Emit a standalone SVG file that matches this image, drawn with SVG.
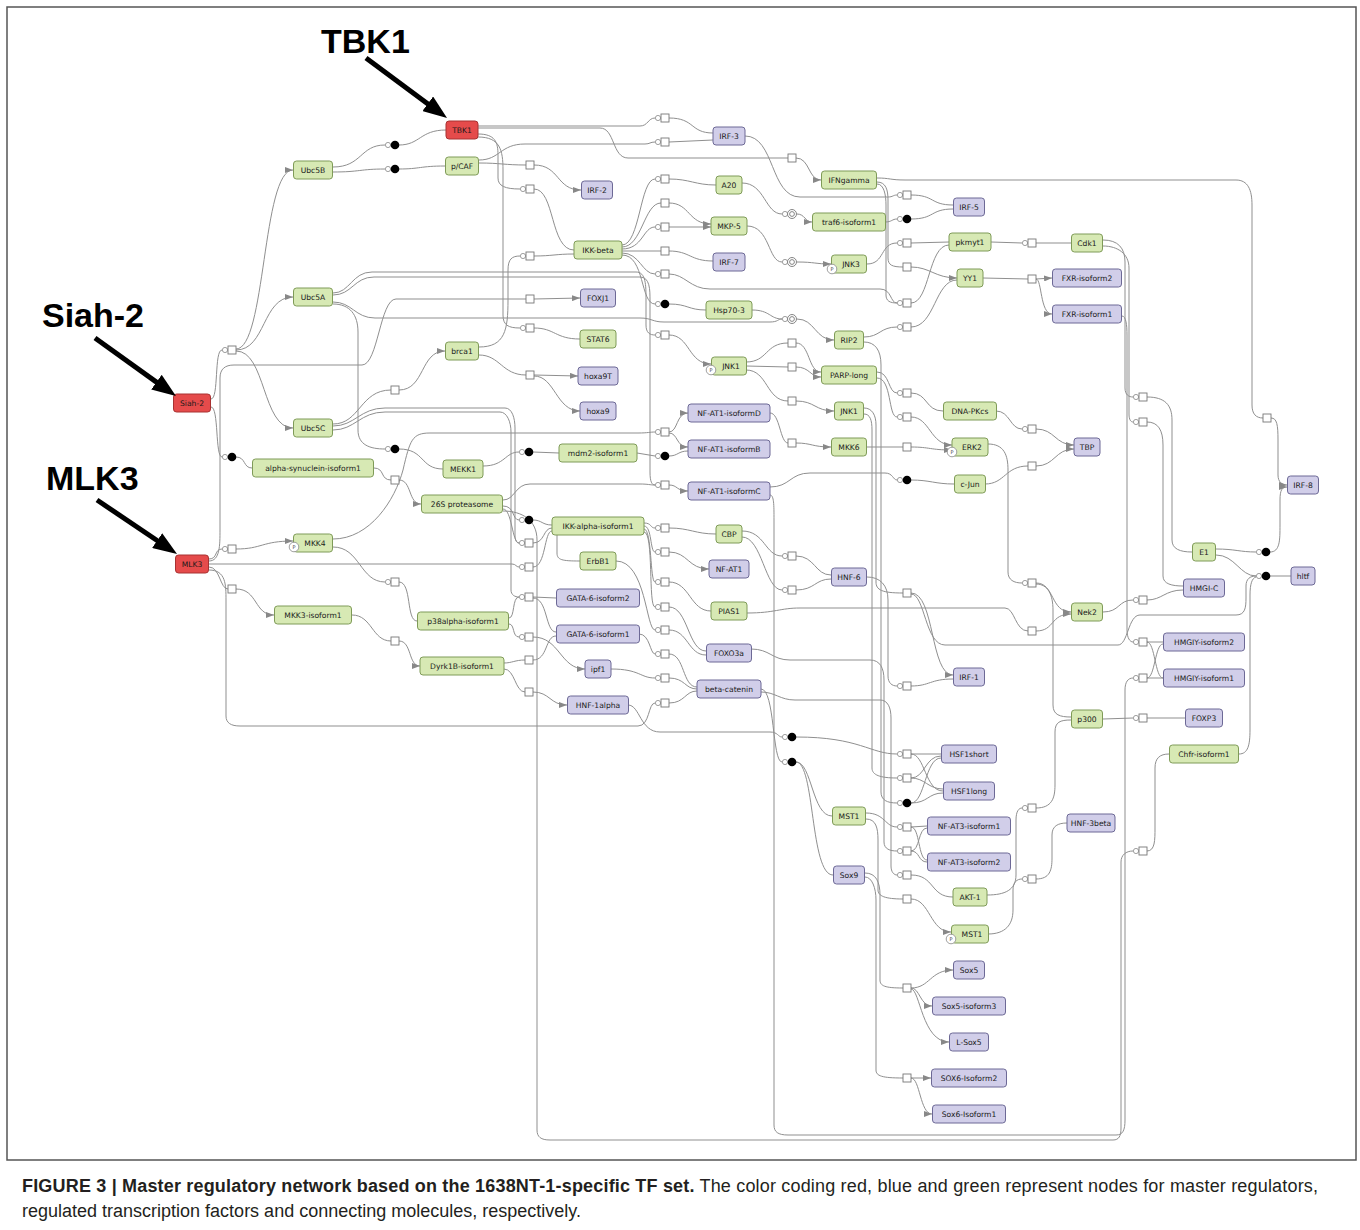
<svg xmlns="http://www.w3.org/2000/svg" xmlns:xlink="http://www.w3.org/1999/xlink" width="1360" height="1230" viewBox="0 0 1360 1230">
<style>
.e{fill:none;stroke:#8f8f8f;stroke-width:1}
.a{marker-end:url(#ar)}
.n rect{stroke-width:1}
.g rect{fill:#d7e9b4;stroke:#7f9b58}
.b rect{fill:#d1cee9;stroke:#6d6996}
.r rect{fill:#e54b4b;stroke:#a83232}
.n text{font-family:"DejaVu Sans",sans-serif;font-size:7.6px;fill:#1a1a1a;text-anchor:middle}
.big{font-family:"Liberation Sans",Arial,sans-serif;font-weight:bold;font-size:34px;fill:#000}
.cap{font-family:"Liberation Sans",Arial,sans-serif;font-size:18px;fill:#231f20}
.pc circle{fill:#fff;stroke:#888;stroke-width:0.8}
.pc text{font-family:"DejaVu Sans",sans-serif;font-size:5px;fill:#444;text-anchor:middle}
</style>
<defs>
<marker id="ar" viewBox="0 0 8 6" refX="8" refY="3" markerWidth="8" markerHeight="6" markerUnits="userSpaceOnUse" orient="auto"><path d="M0,0 L8,3 L0,6 z" fill="#888"/></marker>
<marker id="big" viewBox="0 0 24 18" refX="12" refY="9" markerWidth="24" markerHeight="18" markerUnits="userSpaceOnUse" orient="auto"><path d="M0,0 L24,9 L0,18 z" fill="#000"/></marker>
<g id="sq"><rect x="-4" y="-4" width="8" height="8" fill="#fff" stroke="#777" stroke-width="0.9"/></g>
<g id="sqc"><circle cx="-7" cy="0" r="2.6" fill="#fff" stroke="#888" stroke-width="0.8"/><rect x="-4" y="-4" width="8" height="8" fill="#fff" stroke="#777" stroke-width="0.9"/></g>
<g id="dot"><circle cx="-7" cy="0" r="2.6" fill="#fff" stroke="#888" stroke-width="0.8"/><circle cx="0" cy="0" r="4.3" fill="#000"/></g>
<g id="dc"><circle cx="-7" cy="0" r="2.6" fill="#fff" stroke="#888" stroke-width="0.8"/><circle cx="0" cy="0" r="4.5" fill="#fff" stroke="#777" stroke-width="0.9"/><circle cx="0" cy="0" r="2.4" fill="none" stroke="#777" stroke-width="0.9"/></g>
</defs>
<rect x="0" y="0" width="1360" height="1230" fill="#fff"/>
<rect x="7" y="7" width="1349" height="1153" fill="none" stroke="#555" stroke-width="1.5"/>

<g id="connectors">
<path class="e" d="M211,399 C219,399 214,350 222,350"/>
<path class="e a" d="M236,349 C266,349 262,170 293,170"/>
<path class="e a" d="M236,350 C266,350 262,297 293,297"/>
<path class="e a" d="M236,351 C266,351 262,428 293,428"/>
<path class="e" d="M211,407 C219,407 215,457 222,457"/>
<path class="e" d="M236,457 C246,457 243,468 252,468"/>
<path class="e" d="M209,559 C218,559 214,549 222,549"/>
<path class="e a" d="M236,549 C262,549 262,541 293,541"/>
<path class="e" d="M209,564 L512,564 C516,564 516,567 519,567"/>
<path class="e" d="M209,567 C220,567 220,589 228,589"/>
<path class="e a" d="M236,589 C258,589 254,615 274,615"/>
<path class="e" d="M209,570 C226,570 226,585 226,600 L226,716 C226,723 231,726 240,726 L638,726 C650,726 648,703 655,703"/>
<path class="e" d="M209,561 C220,561 220,545 220,530 L220,378 C220,369 225,365 234,365 L362,365 C378,365 380,299 396,299 L526,299"/>
<path class="e a" d="M534,299 L580,298"/>
<path class="e" d="M333,167 C362,167 360,145 385,145"/>
<path class="e" d="M399,145 C420,145 420,130 446,130"/>
<path class="e" d="M333,172 C360,172 360,169 385,169"/>
<path class="e" d="M399,169 C420,169 420,166 445,166"/>
<path class="e" d="M333,304 C350,304 358,315 358,332 L358,430 C358,445 370,449 385,449"/>
<path class="e" d="M399,449 C425,449 420,469 443,469"/>
<path class="e" d="M333,424 C360,424 360,390 391,390"/>
<path class="e a" d="M399,390 C425,390 420,351 445,351"/>
<path class="e" d="M374,468 C385,468 380,480 391,480"/>
<path class="e a" d="M399,480 C412,480 408,504 421,504"/>
<path class="e" d="M333,539 C370,539 395,500 403,470 C410,440 412,433 430,433 L638,433 C648,433 650,432 655,432"/>
<path class="e" d="M333,547 C360,547 360,582 385,582"/>
<path class="e" d="M399,582 C412,582 406,621 417,621"/>
<path class="e" d="M352,615 C372,615 372,641 391,641"/>
<path class="e a" d="M399,641 C412,641 408,666 420,666"/>
<path class="e" d="M479,163 C500,163 505,165 526,165"/>
<path class="e a" d="M534,165 C560,165 556,190 581,190"/>
<path class="e" d="M478,134 C495,134 498,142 498,155 L498,178 C498,186 505,189 520,189"/>
<path class="e" d="M534,189 C555,189 550,250 574,250"/>
<path class="e" d="M479,347 C505,347 508,330 508,300 L508,270 C508,259 512,256 520,256"/>
<path class="e" d="M534,256 C552,256 556,254 574,254"/>
<path class="e" d="M478,137 C500,137 503,150 503,170 L503,315 C503,325 508,328 520,328"/>
<path class="e" d="M534,328 C555,328 555,339 580,339"/>
<path class="e" d="M479,355 C500,355 502,375 526,375"/>
<path class="e a" d="M534,375 L578,376"/>
<path class="e a" d="M534,376 C555,376 556,411 580,411"/>
<path class="e" d="M483,466 C505,466 505,452 519,452"/>
<path class="e" d="M533,452 L559,453"/>
<path class="e" d="M503,506 C515,506 512,520 519,520"/>
<path class="e" d="M533,520 C542,520 542,525 552,525"/>
<path class="e" d="M503,509 C512,509 512,543 519,543"/>
<path class="e" d="M533,543 C545,543 543,528 552,528"/>
<path class="e" d="M533,567 C546,567 544,531 552,531"/>
<path class="e" d="M557,535 L557,553 C557,560 562,561 580,561"/>
<path class="e" d="M509,618 C515,618 512,597 519,597"/>
<path class="e" d="M533,597 L556,598"/>
<path class="e" d="M533,598 C548,598 545,632 556,632"/>
<path class="e" d="M509,624 C515,624 512,637 519,637"/>
<path class="e a" d="M533,637 C560,637 560,669 585,669"/>
<path class="e" d="M504,663 C512,663 515,660 525,660"/>
<path class="e" d="M533,660 C548,660 545,636 556,636"/>
<path class="e" d="M504,669 C515,669 515,692 525,692"/>
<path class="e a" d="M533,692 C550,692 550,705 567,705"/>
<path class="e" d="M333,426 C355,426 360,408 385,408 L505,408 C512,408 515,418 515,428 L515,535 C515,541 517,543 519,543"/>
<path class="e" d="M333,430 C355,430 360,412 385,412 L500,412 C507,412 511,422 511,432 L511,590 C511,595 515,597 519,597"/>
<path class="e" d="M478,126 L640,126 C648,126 648,118 655,118"/>
<path class="e" d="M669,118 C695,118 690,133 713,133"/>
<path class="e" d="M479,160 C500,160 500,144 525,144 L645,144 C650,144 650,142 655,142"/>
<path class="e" d="M669,142 L713,140"/>
<path class="e" d="M622,245 C640,245 640,179 655,179"/>
<path class="e" d="M669,179 C690,179 695,185 716,185"/>
<path class="e" d="M622,247 C642,247 644,203 661,203"/>
<path class="e a" d="M669,203 C690,203 688,224 711,224"/>
<path class="e" d="M622,249 C643,249 643,227 655,227"/>
<path class="e a" d="M669,227 L711,227"/>
<path class="e" d="M622,251 L661,251"/>
<path class="e" d="M669,251 C690,251 690,261 713,261"/>
<path class="e" d="M622,253 C640,253 642,274 655,274"/>
<path class="e" d="M669,274 C685,274 690,289 710,289 L880,289 C892,289 890,303 897,303"/>
<path class="e" d="M622,255 C645,255 640,304 655,304"/>
<path class="e" d="M669,304 C688,304 688,310 706,310"/>
<path class="e" d="M333,293 C350,293 352,272 372,272 L636,272 C646,272 646,285 646,300 L646,325 C646,333 650,335 655,335"/>
<path class="e a" d="M669,335 C690,335 688,364 711,364"/>
<path class="e" d="M333,295 C352,295 354,277 374,277 L640,277 C650,277 650,290 650,300 L650,472 C650,482 652,485 655,485"/>
<path class="e a" d="M669,432 C678,432 676,413 688,413"/>
<path class="e a" d="M669,433 C678,433 676,447 688,447"/>
<path class="e" d="M637,453 L655,456"/>
<path class="e" d="M669,456 C678,456 678,451 688,451"/>
<path class="e a" d="M669,485 C678,485 676,491 688,491"/>
<path class="e" d="M503,500 C515,500 515,484 530,484 L640,484 C648,484 650,485 655,485"/>
<path class="e" d="M644,523 C652,523 650,528 655,528"/>
<path class="e" d="M669,528 C690,528 695,534 716,534"/>
<path class="e" d="M644,526 C652,526 650,552 655,552"/>
<path class="e a" d="M669,552 C688,552 688,569 709,569"/>
<path class="e" d="M644,529 C652,529 650,582 655,582"/>
<path class="e" d="M669,582 C690,582 690,611 711,611"/>
<path class="e" d="M644,532 C654,532 648,607 655,607"/>
<path class="e" d="M669,607 C688,607 688,651 706,651"/>
<path class="e" d="M616,561 C646,561 646,630 655,630"/>
<path class="e" d="M669,630 C688,630 688,655 706,655"/>
<path class="e" d="M639,634 C650,634 650,654 655,654"/>
<path class="e" d="M669,654 C685,654 682,687 697,687"/>
<path class="e" d="M611,669 C640,669 640,678 655,678"/>
<path class="e" d="M669,678 C685,678 685,689 697,689"/>
<path class="e" d="M669,703 C685,703 685,691 697,691"/>
<path class="e" d="M478,128 L600,128 C615,128 612,158 628,158 L788,158"/>
<path class="e a" d="M796,158 C810,158 808,180 821,180"/>
<path class="e" d="M742,183 C765,183 765,214 782,214"/>
<path class="e a" d="M797,214 C805,214 805,222 812,222"/>
<path class="e" d="M747,226 C770,226 768,262 782,262"/>
<path class="e a" d="M797,262 C815,262 815,264 831,264"/>
<path class="e" d="M752,310 C770,310 770,319 782,319"/>
<path class="e a" d="M797,319 C815,319 815,340 834,340"/>
<path class="e" d="M333,302 C352,302 355,318 375,318 L640,318 C652,318 652,322 664,322 L770,322 C778,322 778,319 782,319"/>
<path class="e" d="M746,362 C768,362 765,343 788,343"/>
<path class="e a" d="M796,343 C810,343 808,372 821,372"/>
<path class="e" d="M746,366 L788,367"/>
<path class="e a" d="M796,367 C810,367 810,377 821,377"/>
<path class="e" d="M746,370 C768,370 766,401 788,401"/>
<path class="e a" d="M796,401 C815,401 815,411 834,411"/>
<path class="e" d="M770,413 C780,413 780,443 788,443"/>
<path class="e a" d="M796,443 C812,443 812,447 831,447"/>
<path class="e" d="M742,531 C765,531 765,556 782,556"/>
<path class="e" d="M796,556 C815,556 815,575 831,575"/>
<path class="e" d="M742,537 C762,537 765,590 782,590"/>
<path class="e" d="M796,590 C815,590 815,579 831,579"/>
<path class="e" d="M628,705 C640,705 640,732 660,732 L770,732 C778,732 778,737 782,737"/>
<path class="e" d="M796,737 C860,737 870,754 897,754"/>
<path class="e" d="M761,689 C775,689 772,762 782,762"/>
<path class="e" d="M796,762 C812,762 812,816 832,816"/>
<path class="e" d="M796,762 C815,762 810,875 833,875"/>
<path class="e" d="M745,136 C775,136 770,197 800,197 L888,197 C893,197 893,195 897,195"/>
<path class="e" d="M911,195 C935,195 930,205 953,205"/>
<path class="e" d="M885,222 C892,222 892,219 897,219"/>
<path class="e" d="M911,219 C935,219 930,209 953,209"/>
<path class="e" d="M867,264 C885,264 880,243 897,243"/>
<path class="e" d="M911,243 L949,242"/>
<path class="e" d="M877,182 C886,182 888,190 888,200 L888,258 C888,265 892,267 903,267"/>
<path class="e a" d="M911,267 C930,267 935,278 957,278"/>
<path class="e" d="M877,184 C884,184 886,195 886,205 L886,295 C886,301 890,303 897,303"/>
<path class="e" d="M911,303 C930,303 928,245 949,245"/>
<path class="e" d="M864,337 C880,337 880,327 897,327"/>
<path class="e" d="M911,327 C935,327 935,280 957,280"/>
<path class="e" d="M877,372 C890,372 888,393 897,393"/>
<path class="e" d="M911,393 C928,393 925,411 943,411"/>
<path class="e" d="M877,378 C892,378 888,417 897,417"/>
<path class="e a" d="M911,417 C930,417 930,445 952,445"/>
<path class="e" d="M867,447 L903,447"/>
<path class="e a" d="M911,447 C930,447 930,450 952,450"/>
<path class="e" d="M770,487 C790,487 790,473 810,473 L885,473 C893,473 893,480 897,480"/>
<path class="e" d="M911,480 C930,480 935,484 954,484"/>
<path class="e" d="M864,408 C872,408 876,415 876,425 L876,582 C876,590 882,593 903,593"/>
<path class="e a" d="M911,593 C935,593 930,675 953,675"/>
<path class="e" d="M911,594 C925,594 925,645 945,645 L1118,645 C1128,645 1128,615 1140,615 L1236,615 C1245,615 1246,608 1246,598 L1246,586 C1246,579 1250,576 1256,576"/>
<path class="e" d="M867,577 C880,577 888,585 888,600 L888,676 C888,683 892,686 897,686"/>
<path class="e" d="M911,686 C930,686 930,679 953,679"/>
<path class="e" d="M911,754 L941,754"/>
<path class="e" d="M911,754 C925,754 925,791 943,791"/>
<path class="e" d="M864,414 C870,414 872,420 872,430 L872,768 C872,775 880,778 897,778"/>
<path class="e" d="M911,778 C925,778 925,756 941,756"/>
<path class="e" d="M911,778 C925,778 928,789 943,789"/>
<path class="e" d="M864,342 C875,342 881,350 881,365 L881,792 C881,800 887,803 897,803"/>
<path class="e" d="M911,803 C925,803 925,758 941,758"/>
<path class="e" d="M911,803 C928,803 928,793 943,793"/>
<path class="e" d="M866,813 C885,813 885,827 897,827"/>
<path class="e" d="M911,827 L927,826"/>
<path class="e" d="M911,827 C920,827 918,860 927,860"/>
<path class="e" d="M751,649 C770,649 772,660 790,660 L870,660 C880,660 884,668 884,680 L884,842 C884,849 890,851 897,851"/>
<path class="e" d="M911,851 C920,851 918,828 927,828"/>
<path class="e" d="M911,851 C920,851 918,862 927,862"/>
<path class="e" d="M761,692 C775,692 780,700 795,700 L880,700 C888,700 891,708 891,718 L891,866 C891,872 894,875 897,875"/>
<path class="e" d="M911,875 C935,875 930,897 953,897"/>
<path class="e" d="M866,819 C876,819 878,828 878,840 L878,890 C878,896 885,899 903,899"/>
<path class="e a" d="M911,899 C930,899 930,932 951,932"/>
<path class="e" d="M865,873 C876,873 880,882 880,895 L880,980 C880,986 885,988 903,988"/>
<path class="e a" d="M911,988 C930,988 930,970 953,970"/>
<path class="e a" d="M911,988 C920,988 920,1006 932,1006"/>
<path class="e a" d="M911,989 C920,989 922,1042 949,1042"/>
<path class="e" d="M865,877 C872,877 876,888 876,900 L876,1070 C876,1076 882,1078 903,1078"/>
<path class="e a" d="M911,1078 L931,1078"/>
<path class="e a" d="M911,1078 C920,1078 920,1114 932,1114"/>
<path class="e" d="M991,242 L1022,243"/>
<path class="e" d="M1036,243 L1071,243"/>
<path class="e" d="M983,278 L1028,279"/>
<path class="e a" d="M1036,279 L1052,278"/>
<path class="e a" d="M1036,279 C1042,279 1040,314 1052,314"/>
<path class="e" d="M996,411 C1010,411 1010,429 1022,429"/>
<path class="e a" d="M1036,429 C1055,429 1055,445 1074,445"/>
<path class="e" d="M985,484 C1005,484 1005,466 1028,466"/>
<path class="e a" d="M1036,466 C1055,466 1055,449 1074,449"/>
<path class="e" d="M988,444 C1004,444 1008,455 1008,470 L1008,572 C1008,580 1014,583 1022,583"/>
<path class="e a" d="M1036,583 C1055,583 1050,612 1071,612"/>
<path class="e" d="M1036,584 C1048,584 1053,595 1053,610 L1053,705 C1053,715 1060,717 1071,717"/>
<path class="e" d="M747,613 C775,613 780,608 800,608 L1005,608 C1015,608 1015,631 1028,631"/>
<path class="e a" d="M1036,631 C1055,631 1050,614 1071,614"/>
<path class="e" d="M987,895 C1005,895 1016,890 1016,875 L1016,820 C1016,811 1019,808 1022,808"/>
<path class="e" d="M1036,808 C1052,808 1055,798 1055,785 L1055,732 C1055,722 1060,720 1071,720"/>
<path class="e" d="M988,934 C1005,934 1013,925 1013,910 L1013,890 C1013,882 1017,879 1022,879"/>
<path class="e" d="M1036,879 C1050,879 1052,870 1052,858 L1052,835 C1052,826 1058,823 1067,823"/>
<path class="e" d="M1103,240 C1118,240 1125,248 1125,262 L1125,388 C1125,395 1129,397 1133,397"/>
<path class="e" d="M1147,397 C1165,397 1172,405 1172,420 L1172,540 C1172,549 1180,552 1192,552"/>
<path class="e" d="M1103,246 C1118,246 1129,254 1129,268 L1129,414 C1129,420 1131,422 1133,422"/>
<path class="e" d="M1147,422 C1158,422 1163,430 1163,445 L1163,576 C1163,584 1172,586 1183,586"/>
<path class="e" d="M1103,612 C1120,612 1118,600 1133,600"/>
<path class="e" d="M1147,600 C1162,600 1165,590 1183,590"/>
<path class="e" d="M1122,316 C1126,316 1127,325 1127,335 L1127,630 C1127,638 1130,642 1133,642"/>
<path class="e" d="M1147,642 L1163,642"/>
<path class="e" d="M1147,642 C1155,642 1155,678 1163,678"/>
<path class="e" d="M770,495 C774,495 774,505 774,520 L774,1125 C774,1132 778,1135 788,1135 L1116,1135 C1123,1135 1125,1130 1125,1120 L1125,690 C1125,682 1128,678 1133,678"/>
<path class="e" d="M1147,678 L1163,678"/>
<path class="e" d="M1147,678 C1155,678 1155,644 1163,644"/>
<path class="e" d="M1103,719 L1133,718"/>
<path class="e" d="M1147,718 L1185,718"/>
<path class="e" d="M503,511 C522,511 537,520 537,540 L537,1130 C537,1137 541,1140 550,1140 L1113,1140 C1119,1140 1121,1136 1121,1128 L1121,862 C1121,855 1126,851 1133,851"/>
<path class="e" d="M1147,851 C1155,851 1155,840 1155,828 L1155,768 C1155,758 1160,754 1169,754"/>
<path class="e" d="M877,178 C890,178 890,180 905,180 L1236,180 C1248,180 1252,190 1252,205 L1252,405 C1252,414 1256,418 1263,418"/>
<path class="e a" d="M1271,418 C1277,418 1278,425 1278,440 L1278,475 C1278,482 1282,485 1287,485"/>
<path class="e" d="M1216,549 C1235,549 1240,552 1256,552"/>
<path class="e a" d="M1270,552 C1280,552 1280,540 1280,525 L1280,500 C1280,490 1282,487 1287,487"/>
<path class="e" d="M1216,555 C1235,555 1240,576 1256,576"/>
<path class="e" d="M1270,576 L1291,576"/>
<path class="e" d="M1239,754 C1248,754 1250,745 1250,730 L1250,595 C1250,584 1252,578 1256,577"/>
</g>

<g id="process-glyphs">
<use href="#sqc" x="232" y="350"/><use href="#sqc" x="232" y="549"/><use href="#sqc" x="395" y="582"/>
<use href="#sqc" x="530" y="189"/><use href="#sqc" x="530" y="256"/><use href="#sqc" x="530" y="328"/>
<use href="#sqc" x="665" y="118"/><use href="#sqc" x="665" y="142"/><use href="#sqc" x="665" y="179"/><use href="#sqc" x="665" y="227"/><use href="#sqc" x="665" y="274"/><use href="#sqc" x="665" y="335"/><use href="#sqc" x="665" y="432"/><use href="#sqc" x="665" y="485"/><use href="#sqc" x="665" y="528"/><use href="#sqc" x="665" y="552"/><use href="#sqc" x="665" y="582"/><use href="#sqc" x="665" y="607"/><use href="#sqc" x="665" y="630"/><use href="#sqc" x="665" y="654"/><use href="#sqc" x="665" y="678"/><use href="#sqc" x="665" y="703"/>
<use href="#sqc" x="529" y="543"/><use href="#sqc" x="529" y="567"/><use href="#sqc" x="529" y="597"/><use href="#sqc" x="529" y="637"/>
<use href="#sqc" x="792" y="556"/><use href="#sqc" x="792" y="590"/>
<use href="#sqc" x="907" y="195"/><use href="#sqc" x="907" y="243"/><use href="#sqc" x="907" y="303"/><use href="#sqc" x="907" y="327"/><use href="#sqc" x="907" y="393"/><use href="#sqc" x="907" y="417"/><use href="#sqc" x="907" y="686"/><use href="#sqc" x="907" y="754"/><use href="#sqc" x="907" y="778"/><use href="#sqc" x="907" y="827"/><use href="#sqc" x="907" y="851"/><use href="#sqc" x="907" y="875"/>
<use href="#sqc" x="1032" y="243"/><use href="#sqc" x="1032" y="429"/><use href="#sqc" x="1032" y="583"/><use href="#sqc" x="1032" y="808"/><use href="#sqc" x="1032" y="879"/>
<use href="#sqc" x="1143" y="397"/><use href="#sqc" x="1143" y="422"/><use href="#sqc" x="1143" y="600"/><use href="#sqc" x="1143" y="642"/><use href="#sqc" x="1143" y="678"/><use href="#sqc" x="1143" y="718"/><use href="#sqc" x="1143" y="851"/>
<use href="#sq" x="395" y="390"/><use href="#sq" x="395" y="480"/><use href="#sq" x="232" y="589"/><use href="#sq" x="395" y="641"/>
<use href="#sq" x="530" y="165"/><use href="#sq" x="530" y="299"/><use href="#sq" x="530" y="375"/><use href="#sq" x="529" y="660"/><use href="#sq" x="529" y="692"/>
<use href="#sq" x="665" y="203"/><use href="#sq" x="665" y="251"/>
<use href="#sq" x="792" y="158"/><use href="#sq" x="792" y="343"/><use href="#sq" x="792" y="367"/><use href="#sq" x="792" y="401"/><use href="#sq" x="792" y="443"/>
<use href="#sq" x="907" y="267"/><use href="#sq" x="907" y="447"/><use href="#sq" x="907" y="593"/><use href="#sq" x="907" y="899"/><use href="#sq" x="907" y="988"/><use href="#sq" x="907" y="1078"/>
<use href="#sq" x="1032" y="279"/><use href="#sq" x="1032" y="466"/><use href="#sq" x="1032" y="631"/><use href="#sq" x="1267" y="418"/>
<use href="#dot" x="395" y="145"/><use href="#dot" x="395" y="169"/><use href="#dot" x="395" y="449"/><use href="#dot" x="232" y="457"/><use href="#dot" x="529" y="452"/><use href="#dot" x="529" y="520"/><use href="#dot" x="665" y="304"/><use href="#dot" x="665" y="456"/><use href="#dot" x="792" y="737"/><use href="#dot" x="792" y="762"/><use href="#dot" x="907" y="219"/><use href="#dot" x="907" y="480"/><use href="#dot" x="907" y="803"/><use href="#dot" x="1266" y="552"/><use href="#dot" x="1266" y="576"/>
<use href="#dc" x="792" y="214"/><use href="#dc" x="792" y="262"/><use href="#dc" x="792" y="319"/>
</g>

<g id="nodes">
<g id="n-TBK1" class="n r"><rect x="446" y="121" width="32" height="18" rx="3"/><text x="462" y="132.7">TBK1</text></g>
<g id="n-pCAF" class="n g"><rect x="445.5" y="157" width="33" height="18" rx="3"/><text x="462" y="168.7">p/CAF</text></g>
<g id="n-Ubc5B" class="n g"><rect x="293.5" y="161" width="39" height="18" rx="3"/><text x="313" y="172.7">Ubc5B</text></g>
<g id="n-Ubc5A" class="n g"><rect x="293.5" y="288" width="39" height="18" rx="3"/><text x="313" y="299.7">Ubc5A</text></g>
<g id="n-Ubc5C" class="n g"><rect x="293.5" y="419" width="39" height="18" rx="3"/><text x="313" y="430.7">Ubc5C</text></g>
<g id="n-brca1" class="n g"><rect x="445.5" y="342" width="33" height="18" rx="3"/><text x="462" y="353.7">brca1</text></g>
<g id="n-Siah2" class="n r"><rect x="173.5" y="394" width="37" height="18" rx="3"/><text x="192" y="405.7">Siah-2</text></g>
<g id="n-alphasyn" class="n g"><rect x="252.5" y="459" width="121" height="18" rx="3"/><text x="313" y="470.7">alpha-synuclein-isoform1</text></g>
<g id="n-MEKK1" class="n g"><rect x="443" y="460" width="40" height="18" rx="3"/><text x="463" y="471.7">MEKK1</text></g>
<g id="n-26S" class="n g"><rect x="421.5" y="495" width="81" height="18" rx="3"/><text x="462" y="506.7">26S proteasome</text></g>
<g id="n-MKK4" class="n g"><rect x="293.5" y="534" width="39" height="18" rx="3"/><text x="315" y="545.7">MKK4</text></g>
<g id="n-MLK3" class="n r"><rect x="175.5" y="555" width="33" height="18" rx="3"/><text x="192" y="566.7">MLK3</text></g>
<g id="n-MKK3" class="n g"><rect x="274.5" y="606" width="77" height="18" rx="3"/><text x="313" y="617.7">MKK3-isoform1</text></g>
<g id="n-p38" class="n g"><rect x="417.5" y="612" width="91" height="18" rx="3"/><text x="463" y="623.7">p38alpha-isoform1</text></g>
<g id="n-Dyrk1B" class="n g"><rect x="420" y="657" width="84" height="18" rx="3"/><text x="462" y="668.7">Dyrk1B-isoform1</text></g>
<g id="n-IRF2" class="n b"><rect x="581.5" y="181" width="31" height="18" rx="3"/><text x="597" y="192.7">IRF-2</text></g>
<g id="n-IKKbeta" class="n g"><rect x="574" y="241" width="48" height="18" rx="3"/><text x="598" y="252.7">IKK-beta</text></g>
<g id="n-FOXJ1" class="n b"><rect x="580.5" y="289" width="35" height="18" rx="3"/><text x="598" y="300.7">FOXJ1</text></g>
<g id="n-STAT6" class="n g"><rect x="580" y="330" width="36" height="18" rx="3"/><text x="598" y="341.7">STAT6</text></g>
<g id="n-hoxa9T" class="n b"><rect x="578" y="367" width="40" height="18" rx="3"/><text x="598" y="378.7">hoxa9T</text></g>
<g id="n-hoxa9" class="n b"><rect x="580" y="402" width="36" height="18" rx="3"/><text x="598" y="413.7">hoxa9</text></g>
<g id="n-mdm2" class="n g"><rect x="559" y="444" width="78" height="18" rx="3"/><text x="598" y="455.7">mdm2-isoform1</text></g>
<g id="n-IKKalpha" class="n g"><rect x="552" y="517" width="92" height="18" rx="3"/><text x="598" y="528.7">IKK-alpha-isoform1</text></g>
<g id="n-ErbB1" class="n g"><rect x="580" y="552" width="36" height="18" rx="3"/><text x="598" y="563.7">ErbB1</text></g>
<g id="n-GATA6i2" class="n b"><rect x="556.5" y="589" width="83" height="18" rx="3"/><text x="598" y="600.7">GATA-6-isoform2</text></g>
<g id="n-GATA6i1" class="n b"><rect x="556.5" y="625" width="83" height="18" rx="3"/><text x="598" y="636.7">GATA-6-isoform1</text></g>
<g id="n-ipf1" class="n b"><rect x="585" y="660" width="26" height="18" rx="3"/><text x="598" y="671.7">ipf1</text></g>
<g id="n-HNF1alpha" class="n b"><rect x="567.5" y="696" width="61" height="18" rx="3"/><text x="598" y="707.7">HNF-1alpha</text></g>
<g id="n-IRF3" class="n b"><rect x="713" y="127" width="32" height="18" rx="3"/><text x="729" y="138.7">IRF-3</text></g>
<g id="n-A20" class="n g"><rect x="716" y="176" width="26" height="18" rx="3"/><text x="729" y="187.7">A20</text></g>
<g id="n-MKP5" class="n g"><rect x="711" y="217" width="36" height="18" rx="3"/><text x="729" y="228.7">MKP-5</text></g>
<g id="n-IRF7" class="n b"><rect x="713" y="253" width="32" height="18" rx="3"/><text x="729" y="264.7">IRF-7</text></g>
<g id="n-Hsp703" class="n g"><rect x="706" y="301" width="46" height="18" rx="3"/><text x="729" y="312.7">Hsp70-3</text></g>
<g id="n-JNK1a" class="n g"><rect x="711.5" y="357" width="35" height="18" rx="3"/><text x="731" y="368.7">JNK1</text></g>
<g id="n-NFAT1D" class="n b"><rect x="688" y="404" width="82" height="18" rx="3"/><text x="729" y="415.7">NF-AT1-isoformD</text></g>
<g id="n-NFAT1B" class="n b"><rect x="688" y="440" width="82" height="18" rx="3"/><text x="729" y="451.7">NF-AT1-isoformB</text></g>
<g id="n-NFAT1C" class="n b"><rect x="688" y="482" width="82" height="18" rx="3"/><text x="729" y="493.7">NF-AT1-isoformC</text></g>
<g id="n-CBP" class="n g"><rect x="716" y="525" width="26" height="18" rx="3"/><text x="729" y="536.7">CBP</text></g>
<g id="n-NFAT1" class="n b"><rect x="709" y="560" width="40" height="18" rx="3"/><text x="729" y="571.7">NF-AT1</text></g>
<g id="n-PIAS1" class="n g"><rect x="711" y="602" width="36" height="18" rx="3"/><text x="729" y="613.7">PIAS1</text></g>
<g id="n-FOXO3a" class="n b"><rect x="706.5" y="644" width="45" height="18" rx="3"/><text x="729" y="655.7">FOXO3a</text></g>
<g id="n-betacatenin" class="n b"><rect x="697" y="680" width="64" height="18" rx="3"/><text x="729" y="691.7">beta-catenin</text></g>
<g id="n-IFNgamma" class="n g"><rect x="821.5" y="171" width="55" height="18" rx="3"/><text x="849" y="182.7">IFNgamma</text></g>
<g id="n-traf6" class="n g"><rect x="812.5" y="213" width="73" height="18" rx="3"/><text x="849" y="224.7">traf6-isoform1</text></g>
<g id="n-JNK3" class="n g"><rect x="831.5" y="255" width="35" height="18" rx="3"/><text x="851" y="266.7">JNK3</text></g>
<g id="n-RIP2" class="n g"><rect x="834.5" y="331" width="29" height="18" rx="3"/><text x="849" y="342.7">RIP2</text></g>
<g id="n-PARPlong" class="n g"><rect x="821.5" y="366" width="55" height="18" rx="3"/><text x="849" y="377.7">PARP-long</text></g>
<g id="n-JNK1b" class="n g"><rect x="834.5" y="402" width="29" height="18" rx="3"/><text x="849" y="413.7">JNK1</text></g>
<g id="n-MKK6" class="n g"><rect x="831.5" y="438" width="35" height="18" rx="3"/><text x="849" y="449.7">MKK6</text></g>
<g id="n-HNF6" class="n b"><rect x="831.5" y="568" width="35" height="18" rx="3"/><text x="849" y="579.7">HNF-6</text></g>
<g id="n-MST1a" class="n g"><rect x="832.5" y="807" width="33" height="18" rx="3"/><text x="849" y="818.7">MST1</text></g>
<g id="n-Sox9" class="n b"><rect x="833.5" y="866" width="31" height="18" rx="3"/><text x="849" y="877.7">Sox9</text></g>
<g id="n-IRF5" class="n b"><rect x="953.5" y="198" width="31" height="18" rx="3"/><text x="969" y="209.7">IRF-5</text></g>
<g id="n-pkmyt1" class="n g"><rect x="949" y="233" width="42" height="18" rx="3"/><text x="970" y="244.7">pkmyt1</text></g>
<g id="n-YY1" class="n g"><rect x="957" y="269" width="26" height="18" rx="3"/><text x="970" y="280.7">YY1</text></g>
<g id="n-DNAPKcs" class="n g"><rect x="943.5" y="402" width="53" height="18" rx="3"/><text x="970" y="413.7">DNA-PKcs</text></g>
<g id="n-ERK2" class="n g"><rect x="952" y="438" width="36" height="18" rx="3"/><text x="972" y="449.7">ERK2</text></g>
<g id="n-cJun" class="n g"><rect x="954.5" y="475" width="31" height="18" rx="3"/><text x="970" y="486.7">c-Jun</text></g>
<g id="n-IRF1" class="n b"><rect x="953.5" y="668" width="31" height="18" rx="3"/><text x="969" y="679.7">IRF-1</text></g>
<g id="n-HSF1short" class="n b"><rect x="941.5" y="745" width="55" height="18" rx="3"/><text x="969" y="756.7">HSF1short</text></g>
<g id="n-HSF1long" class="n b"><rect x="943.5" y="782" width="51" height="18" rx="3"/><text x="969" y="793.7">HSF1long</text></g>
<g id="n-NFAT3i1" class="n b"><rect x="927.5" y="817" width="83" height="18" rx="3"/><text x="969" y="828.7">NF-AT3-isoform1</text></g>
<g id="n-NFAT3i2" class="n b"><rect x="927.5" y="853" width="83" height="18" rx="3"/><text x="969" y="864.7">NF-AT3-isoform2</text></g>
<g id="n-AKT1" class="n g"><rect x="953" y="888" width="34" height="18" rx="3"/><text x="970" y="899.7">AKT-1</text></g>
<g id="n-MST1b" class="n g"><rect x="951.5" y="925" width="37" height="18" rx="3"/><text x="972" y="936.7">MST1</text></g>
<g id="n-Sox5" class="n b"><rect x="953.5" y="961" width="31" height="18" rx="3"/><text x="969" y="972.7">Sox5</text></g>
<g id="n-Sox5i3" class="n b"><rect x="932.5" y="997" width="73" height="18" rx="3"/><text x="969" y="1008.7">Sox5-isoform3</text></g>
<g id="n-LSox5" class="n b"><rect x="949.5" y="1033" width="39" height="18" rx="3"/><text x="969" y="1044.7">L-Sox5</text></g>
<g id="n-SOX6i2" class="n b"><rect x="931.5" y="1069" width="75" height="18" rx="3"/><text x="969" y="1080.7">SOX6-Isoform2</text></g>
<g id="n-Sox6i1" class="n b"><rect x="932.5" y="1105" width="73" height="18" rx="3"/><text x="969" y="1116.7">Sox6-Isoform1</text></g>
<g id="n-Cdk1" class="n g"><rect x="1071.5" y="234" width="31" height="18" rx="3"/><text x="1087" y="245.7">Cdk1</text></g>
<g id="n-FXRi2" class="n b"><rect x="1052.5" y="269" width="69" height="18" rx="3"/><text x="1087" y="280.7">FXR-isoform2</text></g>
<g id="n-FXRi1" class="n b"><rect x="1052.5" y="305" width="69" height="18" rx="3"/><text x="1087" y="316.7">FXR-isoform1</text></g>
<g id="n-TBP" class="n b"><rect x="1074" y="438" width="26" height="18" rx="3"/><text x="1087" y="449.7">TBP</text></g>
<g id="n-Nek2" class="n g"><rect x="1071.5" y="603" width="31" height="18" rx="3"/><text x="1087" y="614.7">Nek2</text></g>
<g id="n-p300" class="n g"><rect x="1071.5" y="710" width="31" height="18" rx="3"/><text x="1087" y="721.7">p300</text></g>
<g id="n-HNF3beta" class="n b"><rect x="1067" y="814" width="48" height="18" rx="3"/><text x="1091" y="825.7">HNF-3beta</text></g>
<g id="n-E1" class="n g"><rect x="1192.5" y="543" width="23" height="18" rx="3"/><text x="1204" y="554.7">E1</text></g>
<g id="n-HMGIC" class="n b"><rect x="1183.5" y="579" width="41" height="18" rx="3"/><text x="1204" y="590.7">HMGI-C</text></g>
<g id="n-HMGIYi2" class="n b"><rect x="1163.5" y="633" width="81" height="18" rx="3"/><text x="1204" y="644.7">HMGIY-isoform2</text></g>
<g id="n-HMGIYi1" class="n b"><rect x="1163.5" y="669" width="81" height="18" rx="3"/><text x="1204" y="680.7">HMGIY-isoform1</text></g>
<g id="n-FOXP3" class="n b"><rect x="1185.5" y="709" width="37" height="18" rx="3"/><text x="1204" y="720.7">FOXP3</text></g>
<g id="n-Chfr" class="n g"><rect x="1169.5" y="745" width="69" height="18" rx="3"/><text x="1204" y="756.7">Chfr-isoform1</text></g>
<g id="n-IRF8" class="n b"><rect x="1287.5" y="476" width="31" height="18" rx="3"/><text x="1303" y="487.7">IRF-8</text></g>
<g id="n-hltf" class="n b"><rect x="1291" y="567" width="24" height="18" rx="3"/><text x="1303" y="578.7">hltf</text></g>
</g>

<g id="phospho-marks" class="pc">
<circle cx="294" cy="547" r="4.8"/><text x="294" y="548.8">P</text>
<circle cx="711" cy="370" r="4.8"/><text x="711" y="371.8">P</text>
<circle cx="832" cy="269" r="4.8"/><text x="832" y="270.8">P</text>
<circle cx="952" cy="452" r="4.8"/><text x="952" y="453.8">P</text>
<circle cx="951" cy="939" r="4.8"/><text x="951" y="940.8">P</text>
</g>

<g id="callouts">
<text class="big" x="321" y="53" font-size="33">TBK1</text>
<line x1="366" y1="58" x2="437.4" y2="110.9" stroke="#000" stroke-width="5" marker-end="url(#big)"/>
<text class="big" x="42" y="327">Siah-2</text>
<line x1="95" y1="338" x2="166.2" y2="389.1" stroke="#000" stroke-width="5" marker-end="url(#big)"/>
<text class="big" x="46" y="490">MLK3</text>
<line x1="97" y1="500" x2="167.1" y2="547.3" stroke="#000" stroke-width="5" marker-end="url(#big)"/>
</g>

<g id="caption">
<text class="cap" x="22" y="1192" textLength="1296" lengthAdjust="spacing"><tspan font-weight="bold">FIGURE 3 | Master regulatory network based on the 1638NT-1-specific TF set.</tspan> The color coding red, blue and green represent nodes for master regulators,</text>
<text class="cap" x="22" y="1217">regulated transcription factors and connecting molecules, respectively.</text>
</g>
</svg>
